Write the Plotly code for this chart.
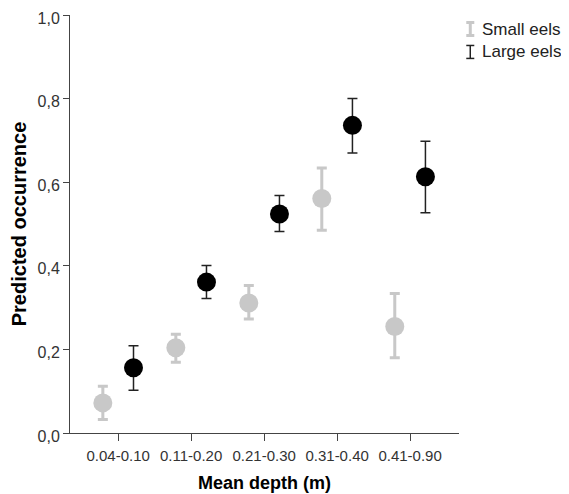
import plotly.graph_objects as go

categories = ["0.04-0.10", "0.11-0.20", "0.21-0.30", "0.31-0.40", "0.41-0.90"]

small_mean = [0.072, 0.204, 0.311, 0.561, 0.255]
small_low = [0.032, 0.169, 0.273, 0.485, 0.180]
small_high = [0.112, 0.236, 0.353, 0.634, 0.334]

large_mean = [0.156, 0.361, 0.524, 0.736, 0.613]
large_low = [0.102, 0.322, 0.482, 0.670, 0.527]
large_high = [0.209, 0.401, 0.568, 0.800, 0.698]

y_ticks = [0.0, 0.2, 0.4, 0.6, 0.8, 1.0]

offset = 0.21
xs = list(range(len(categories)))

GRAY = "#c8c8c8"
BLACK = "#000000"
FONT = "Liberation Sans, Arial, sans-serif"

fig = go.Figure()

fig.add_trace(go.Scatter(
    x=[i - offset for i in xs], y=small_mean, mode="markers", name="Small eels",
    marker=dict(color=GRAY, size=19),
    error_y=dict(type="data", symmetric=False,
                 array=[h - m for h, m in zip(small_high, small_mean)],
                 arrayminus=[m - l for m, l in zip(small_mean, small_low)],
                 color=GRAY, thickness=3, width=5),
    showlegend=False,
))
fig.add_trace(go.Scatter(
    x=[i + offset for i in xs], y=large_mean, mode="markers", name="Large eels",
    marker=dict(color=BLACK, size=19),
    error_y=dict(type="data", symmetric=False,
                 array=[h - m for h, m in zip(large_high, large_mean)],
                 arrayminus=[m - l for m, l in zip(large_mean, large_low)],
                 color="#222222", thickness=1.5, width=5),
    showlegend=False,
))

# manual legend (error-bar glyph + label)
legend_items = [("Small eels", GRAY, 3, 0.9665), ("Large eels", "#222222", 1.5, 0.9116)]
shapes = []
annotations = []
for label, col, w, yp in legend_items:
    xc = 1.029
    dy = 0.0155
    dx = 0.0103
    shapes.append(dict(type="line", xref="paper", yref="paper", x0=xc, x1=xc,
                       y0=yp - dy, y1=yp + dy, line=dict(color=col, width=w)))
    for yy in (yp - dy, yp + dy):
        shapes.append(dict(type="line", xref="paper", yref="paper", x0=xc - dx, x1=xc + dx,
                           y0=yy, y1=yy, line=dict(color=col, width=w)))
    annotations.append(dict(text=label, xref="paper", yref="paper", x=1.054, y=yp,
                            xanchor="left", yanchor="middle", showarrow=False,
                            font=dict(family=FONT, size=17, color="#222222")))

fig.update_layout(
    width=561, height=486,
    margin=dict(l=62, r=110, t=7, b=60.5),
    plot_bgcolor="white", paper_bgcolor="white",
    separators=",.",
    shapes=shapes, annotations=annotations,
    xaxis=dict(
        range=[-0.66, 4.67], tickvals=xs, ticktext=categories,
        showline=True, linecolor="#444444", linewidth=1,
        ticks="outside", ticklen=7, tickcolor="#444444", tickwidth=1,
        showgrid=False, zeroline=False, automargin=False,
        ticklabelstandoff=2,
        tickfont=dict(family=FONT, size=15, color="#333333"),
        title=dict(text="<b>Mean depth (m)</b>", standoff=13,
                   font=dict(family=FONT, size=18, color="#000000")),
    ),
    yaxis=dict(
        range=[0, 1.0], tickvals=y_ticks, tickformat=".1f",
        showline=True, linecolor="#444444", linewidth=1,
        ticks="outside", ticklen=6, tickcolor="#444444", tickwidth=1,
        showgrid=False, zeroline=False, automargin=False,
        ticklabeloverflow="allow", ticklabelshift=3,
        tickfont=dict(family=FONT, size=16, color="#333333"),
        title=dict(text="<b>Predicted occurrence</b>", standoff=8,
                   font=dict(family=FONT, size=20, color="#000000")),
    ),
)

fig.write_html("out.html")
